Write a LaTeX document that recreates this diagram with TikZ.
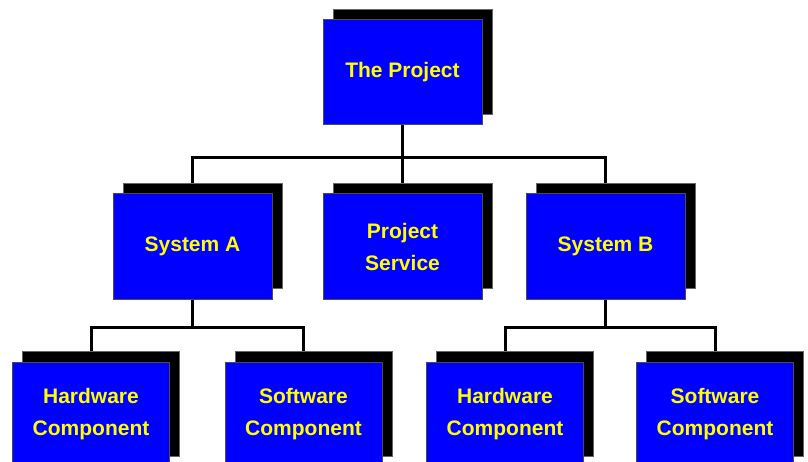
\documentclass[tikz,border=0pt]{standalone}
\usepackage{fontspec}
\setmainfont{Liberation Sans}
\usetikzlibrary{shadows,backgrounds,calc}
\definecolor{boxblue}{RGB}{0,0,255}
\definecolor{txtyellow}{RGB}{255,255,0}
\tikzset{
  orgbox/.style={rectangle, fill=boxblue, draw=black!70, line width=1pt,
    minimum width=159pt, minimum height=105pt, inner sep=0pt, align=center,
    text=txtyellow, font=\fontsize{21}{32}\selectfont\bfseries,
    general shadow={shadow xshift=10pt, shadow yshift=11pt, fill=black, draw=black!60, line width=0.8pt}},
  smallbox/.style={orgbox, minimum width=157pt},
  link/.style={line width=3pt, draw=black}
}
\begin{document}
\begin{tikzpicture}[x=1pt,y=-1pt]
\useasboundingbox (0,0) rectangle (808,462);
\clip (0,0) rectangle (808,462);
\node[orgbox] (top) at (402.5,72.5) {The Project};
\node[orgbox] (sysA) at (192.5,246.5) {System A};
\node[orgbox] (svc) at (402.5,246.5) {Project\\Service};
\node[orgbox] (sysB) at (605.5,246.5) {System B};
\node[smallbox] (hw1) at (91,414.5) {Hardware\\Component};
\node[smallbox] (sw1) at (303.5,414.5) {Software\\Component};
\node[smallbox] (hw2) at (505,414.5) {Hardware\\Component};
\node[smallbox] (sw2) at (715,414.5) {Software\\Component};
\coordinate (busA) at (0,158);
\coordinate (busB) at (0,327);
\begin{scope}[on background layer]
\fill[white] (0,0) rectangle (808,462);
\draw[link] (top.south) -- (top.south |- busA);
\draw[link] (sysA.north) |- (top.south |- busA) -| (sysB.north);
\draw[link] (svc.north) -- (svc.north |- busA);
\draw[link] (sysA.south) -- (sysA.south |- busB);
\draw[link] (hw1.north) |- (sysA.south |- busB) -| (sw1.north);
\draw[link] (sysB.south) -- (sysB.south |- busB);
\draw[link] (hw2.north) |- (sysB.south |- busB) -| (sw2.north);
\end{scope}
\end{tikzpicture}
\end{document}
